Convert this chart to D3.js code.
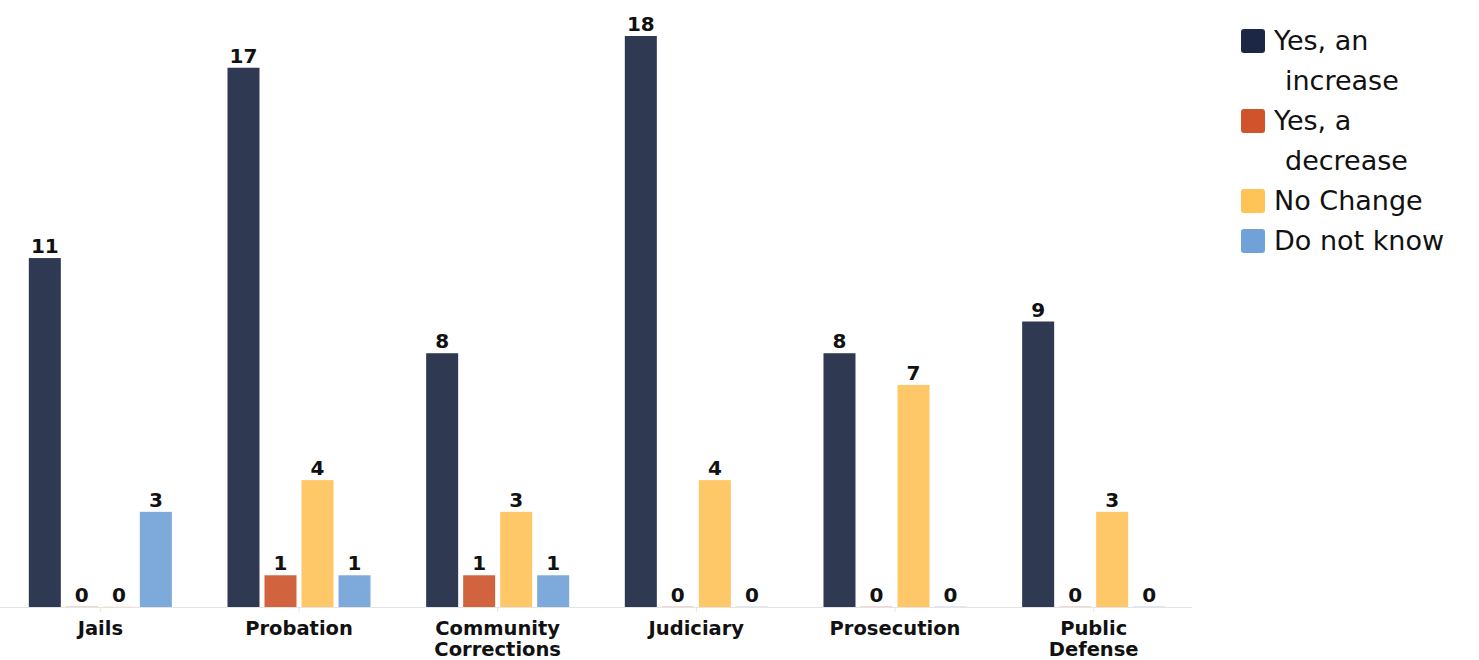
<!DOCTYPE html>
<html>
<head>
<meta charset="utf-8">
<script src="https://cdn.jsdelivr.net/npm/d3@7"></script>
<style>
  html, body { margin: 0; padding: 0; background: #fff; }
  svg { display: block; }
</style>
</head>
<body>
<svg id="chart" width="1479" height="660"></svg>
<script>
// Agencies surveyed
const categories = ["Jails", "Probation", "Community Corrections", "Judiciary", "Prosecution", "Public Defense"];
// Wrapped axis labels
const categoryLines = [["Jails"], ["Probation"], ["Community", "Corrections"], ["Judiciary"], ["Prosecution"], ["Public", "Defense"]];

const seriesNames = ["Yes, an increase", "Yes, a decrease", "No Change", "Do not know"];
const legendLines = [["Yes, an", "increase"], ["Yes, a", "decrease"], ["No Change"], ["Do not know"]];

const increase = [11, 17, 8, 18, 8, 9];
const decrease = [0, 1, 1, 0, 0, 0];
const noChange = [0, 4, 3, 4, 7, 3];
const doNotKnow = [3, 1, 1, 0, 0, 0];

const barColors = ["#2f3a52", "#d2633f", "#fec767", "#7ea9db"];
const swatchColors = ["#1b2744", "#d0532c", "#fec456", "#70a2d9"];

const series = [increase, decrease, noChange, doNotKnow];

const svg = d3.select("#chart");
const baseY = 607;
const boldFont = "'DejaVu Sans', Verdana, sans-serif";

const x0 = d3.scaleBand()
  .domain(categories)
  .range([1, 1193])
  .paddingInner(0.28)
  .paddingOuter(0.14);

const x1 = d3.scaleBand()
  .domain(seriesNames)
  .range([0, x0.bandwidth()])
  .paddingInner(0.135)
  .paddingOuter(0);

const y = d3.scaleLinear().domain([0, 18]).range([baseY, 36]);

// baseline axis
const axis = svg.append("g").attr("transform", `translate(0,${baseY})`)
  .call(d3.axisBottom(x0).tickSize(5).tickFormat(""));
axis.select(".domain").attr("stroke", "#e4e4e4").attr("stroke-width", 1.2)
  .attr("d", `M0,0.5H1192`);
axis.selectAll(".tick line").attr("stroke", "#e4e4e4");

// category labels
categories.forEach((c, i) => {
  const cx = x0(c) + x0.bandwidth() / 2;
  const t = svg.append("text")
    .attr("x", cx)
    .attr("y", 635)
    .attr("text-anchor", "middle")
    .attr("font-family", boldFont)
    .attr("font-weight", "bold")
    .attr("font-size", 19.5)
    .attr("fill", "#111");
  categoryLines[i].forEach((line, k) => {
    t.append("tspan").attr("x", cx).attr("dy", k === 0 ? 0 : 21).text(line);
  });
});

// bars
const groups = svg.append("g").selectAll("g")
  .data(categories)
  .join("g")
  .attr("transform", d => `translate(${x0(d)},0)`);

groups.each(function (cat, ci) {
  const g = d3.select(this);
  series.forEach((vals, si) => {
    const v = vals[ci];
    const bx = x1(seriesNames[si]);
    if (v > 0) {
      g.append("rect")
        .attr("x", bx)
        .attr("y", y(v))
        .attr("width", x1.bandwidth())
        .attr("height", y(0) - y(v))
        .attr("fill", barColors[si]);
    } else {
      g.append("rect")
        .attr("x", bx)
        .attr("y", y(0) - 1)
        .attr("width", x1.bandwidth())
        .attr("height", 1)
        .attr("fill", barColors[si])
        .attr("opacity", 0.25);
    }
    g.append("text")
      .attr("x", bx + x1.bandwidth() / 2)
      .attr("y", y(v) - 5)
      .attr("text-anchor", "middle")
      .attr("font-family", boldFont)
      .attr("font-weight", "bold")
      .attr("font-size", 20)
      .attr("fill", "#111")
      .text(v);
  });
});

// legend
const legend = svg.append("g");
let rowY = 41;
seriesNames.forEach((s, i) => {
  legend.append("rect")
    .attr("x", 1241).attr("y", rowY - 12)
    .attr("width", 24).attr("height", 24)
    .attr("rx", 3)
    .attr("fill", swatchColors[i]);
  legendLines[i].forEach((line, k) => {
    legend.append("text")
      .attr("x", k === 0 ? 1274 : 1285)
      .attr("y", rowY + 9)
      .attr("font-family", "'DejaVu Sans', sans-serif")
      .attr("font-size", 27)
      .attr("fill", "#111")
      .text(line);
    rowY += 40;
  });
});
</script>
</body>
</html>
